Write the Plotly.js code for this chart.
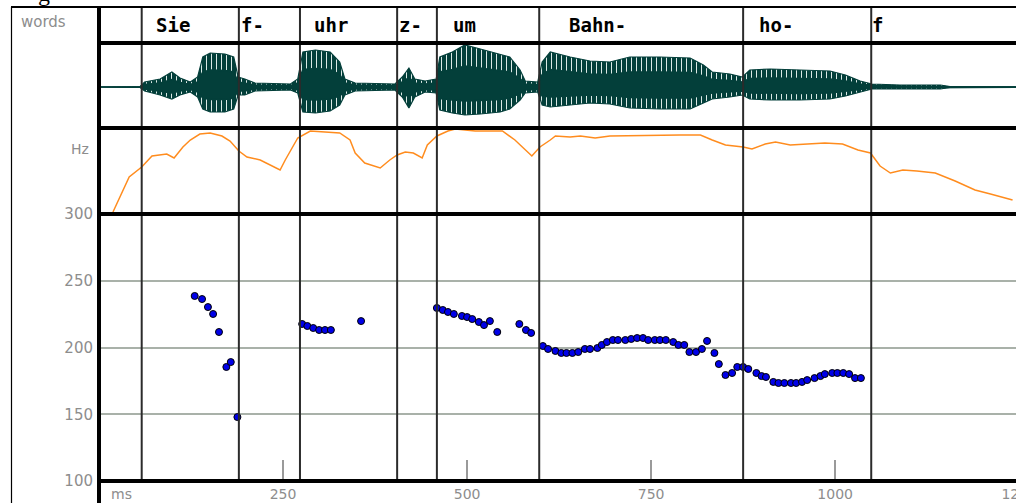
<!DOCTYPE html>
<html>
<head>
<meta charset="utf-8">
<script src="https://cdn.plot.ly/plotly-3.0.1.min.js"></script>
<style>
html,body{margin:0;padding:0;overflow:hidden;background:#fff;width:1016px;height:503px;}
#chart{width:1060px;height:503px;}
</style>
</head>
<body>
<div id="chart"></div>
<script>
// ---------- DATA ----------
// word tier
const words = ["Sie", "f-", "uhr", "z-", "um", "Bahn-", "ho-", "f"];
const wordLabelMs = [76, 192, 291, 406, 480, 637, 895, 1049];
const boundariesMs = [58, 190, 273, 405, 459, 598, 875, 1049];

// waveform envelope (relative amplitude)
const waveMs = [0, 56, 62, 83, 99, 110, 124, 134, 141, 151, 171, 183, 189, 198, 212, 260, 270, 277, 294, 314, 327, 334, 348, 402, 412, 421, 429, 443, 458, 463, 480, 497, 518, 545, 558, 572, 579, 596, 602, 613, 640, 667, 694, 721, 762, 803, 821, 833, 857, 874, 884, 912, 952, 993, 1014, 1034, 1050, 1088, 1143, 1156, 1300];
const waveUpper = [0, 0.5, 5, 8, 15, 9, 5, 10, 30, 34, 33, 30, 10, 8, 4, 3, 8, 35, 37, 35, 25, 8, 4, 3, 10, 19, 8, 6, 8, 30, 35, 42, 38, 33, 30, 17, 6, 5, 25, 35, 30, 26, 25, 30, 30, 29, 22, 15, 13, 10, 17, 18, 17, 16, 12, 6, 3, 2, 2, 0.5, 0];
const waveLower = [0, -0.5, -4, -8, -12, -8, -5, -10, -22, -25, -25, -22, -8, -8, -4, -3, -6, -25, -26, -24, -18, -8, -4, -3, -10, -21, -10, -5, -6, -23, -26, -28, -27, -25, -22, -13, -6, -5, -18, -20, -18, -16, -17, -21, -22, -22, -16, -12, -10, -8, -12, -13, -13, -12, -9, -5, -2, -2, -2, -0.5, 0];

// intensity curve
const intensityMs = [19, 41, 58, 72, 92, 102, 114, 124, 137, 151, 167, 178, 190, 201, 219, 246, 253, 270, 287, 307, 327, 341, 348, 361, 382, 395, 405, 416, 427, 439, 446, 459, 474, 484, 511, 548, 565, 588, 599, 613, 620, 640, 654, 674, 694, 789, 817, 833, 851, 875, 887, 905, 919, 939, 986, 1010, 1031, 1048, 1061, 1075, 1092, 1111, 1136, 1163, 1190, 1211, 1241];
const intensityVal = [2, 37, 47, 58, 60, 56, 67, 74, 80, 81, 78, 73, 63, 57, 54, 44, 54, 76, 83, 82, 81, 74, 61, 51, 46, 54, 59, 62, 61, 56, 69, 78, 83, 85, 83, 83, 74, 58, 67, 74, 78, 77, 78, 76, 78, 79, 79, 74, 69, 67, 65, 70, 72, 69, 71, 70, 64, 61, 48, 41, 44, 43, 41, 33, 24, 20, 14];

// pitch (Hz)
const pitchMs = [130, 140, 148, 155, 163, 173, 179, 188, 276, 283, 291, 299, 307, 315, 356, 459, 467, 474, 482, 493, 500, 507, 516, 523, 531, 541, 571, 580, 587, 603, 610, 620, 628, 635, 643, 651, 660, 667, 677, 683, 690, 698, 705, 715, 723, 731, 739, 746, 755, 762, 770, 780, 787, 795, 802, 811, 819, 826, 836, 842, 851, 860, 867, 875, 882, 893, 900, 906, 916, 923, 931, 940, 947, 955, 962, 972, 980, 986, 996, 1003, 1011, 1019, 1027, 1035];
const pitchHz = [238.6, 236.3, 230.3, 225.1, 211.6, 185.4, 189.1, 147.9, 217.6, 216.1, 214.6, 213.1, 213.1, 213.1, 219.8, 229.6, 228.1, 226.6, 225.1, 223.6, 222.8, 221.3, 219.1, 216.8, 219.8, 211.6, 217.6, 213.1, 210.9, 201.1, 198.9, 197.4, 195.9, 195.9, 195.9, 196.6, 198.9, 198.9, 199.6, 201.9, 204.1, 205.6, 205.6, 205.6, 206.4, 207.1, 207.1, 205.6, 205.6, 205.6, 205.6, 204.1, 201.9, 201.9, 196.6, 196.6, 198.9, 204.9, 195.9, 187.6, 179.4, 180.9, 185.4, 185.4, 183.9, 180.9, 178.6, 177.9, 174.2, 173.4, 173.4, 173.4, 173.4, 174.2, 175.6, 177.1, 178.6, 180.1, 180.9, 180.9, 180.9, 180.1, 177.1, 177.1];

// axes
const timeTicks = [250, 500, 750, 1000, 1250];
const timeTickLabels = ["250", "500", "750", "1000", "1250"];
const hzTicks = [100, 150, 200, 250, 300];
const hzTickLabels = ["100", "150", "200", "250", "300"];

// ---------- LAYOUT ----------
const LW = 1060, LH = 503;
const ML = 99, MR = 4, MT = 7, MB = 22;
const PW = LW - ML - MR, PH = LH - MT - MB;
const px = x => (x - ML) / PW;          // pixel -> paper x
const py = y => (LH - MB - y) / PH;     // pixel -> paper y

const dPitch = [0, py(214)];
const dInt = [py(214), py(128)];
const dWave = [py(128), py(43)];
const dWords = [py(43), 1];

const teal = '#033f3a';
const grayTxt = '#8d8d8d';
const coreScale = 0.5;

// closed outline of the envelope (upper forward, lower backward) for the solid core
const ringX = waveMs.concat(waveMs.slice().reverse());
const ringY = waveUpper.concat(waveLower.slice().reverse());

const traces = [
  // waveform (outer, striated)
  {x: waveMs, y: waveUpper, xaxis: 'x', yaxis: 'y3', mode: 'lines', line: {color: teal, width: 1.2}, hoverinfo: 'skip'},
  {x: waveMs, y: waveLower, xaxis: 'x', yaxis: 'y3', mode: 'lines', line: {color: teal, width: 1.2}, fill: 'tonexty',
   fillcolor: teal, fillpattern: {shape: '|', fgcolor: '#dbe9e6', bgcolor: teal, size: 5, solidity: 0.2}, hoverinfo: 'skip'},
  // waveform inner solid core (same data on a compressed scale)
  {x: ringX, y: ringY, xaxis: 'x', yaxis: 'y5', mode: 'lines', line: {color: teal, width: 1.5}, fill: 'toself',
   fillcolor: teal, hoverinfo: 'skip'},
  // intensity
  {x: intensityMs, y: intensityVal, xaxis: 'x', yaxis: 'y2', mode: 'lines', line: {color: '#ff8c1e', width: 1.5}, hoverinfo: 'skip'},
  // pitch
  {x: pitchMs, y: pitchHz, xaxis: 'x', yaxis: 'y', mode: 'markers',
   marker: {color: '#0000e8', size: 7, line: {color: '#000', width: 1}}, hoverinfo: 'skip'}
];

const shapes = [];
// word boundaries
boundariesMs.forEach(b => shapes.push({type: 'line', xref: 'x', yref: 'paper', x0: b, x1: b, y0: 0, y1: 1,
  line: {color: '#2b2b2b', width: 2}, layer: 'above'}));
// frame lines
const hl = (y, w) => shapes.push({type: 'line', xref: 'paper', yref: 'paper', x0: px(99), x1: px(1100), y0: py(y), y1: py(y), line: {color: '#000', width: w}, layer: 'above'});
hl(43, 4); hl(128, 4); hl(214, 4); hl(481, 4);
shapes.push({type: 'line', xref: 'paper', yref: 'paper', x0: px(11), x1: px(1100), y0: py(7), y1: py(7), line: {color: '#000', width: 2}, layer: 'above'});
shapes.push({type: 'line', xref: 'paper', yref: 'paper', x0: px(99), x1: px(99), y0: py(7), y1: py(510), line: {color: '#000', width: 4}, layer: 'above'});
shapes.push({type: 'line', xref: 'paper', yref: 'paper', x0: px(11.5), x1: px(11.5), y0: py(7), y1: py(510), line: {color: '#000', width: 1.2}, layer: 'above'});

const annotations = [];
words.forEach((w, i) => annotations.push({x: wordLabelMs[i], y: 0.5, xref: 'x', yref: 'y4', text: w, showarrow: false,
  xanchor: 'left', yanchor: 'middle', borderpad: 0,
  font: {family: 'DejaVu Sans Mono', size: 19, color: '#000', weight: 'bold'}}));
annotations.push({x: px(19), y: py(22), xref: 'paper', yref: 'paper', text: 'words', showarrow: false, xanchor: 'left', yanchor: 'middle',
  font: {family: 'DejaVu Sans', size: 15, color: grayTxt}});
annotations.push({x: px(91), y: py(149), xref: 'paper', yref: 'paper', text: 'Hz', showarrow: false, xanchor: 'right', yanchor: 'middle',
  font: {family: 'DejaVu Sans', size: 14, color: grayTxt}});
annotations.push({x: px(109), y: py(494), xref: 'paper', yref: 'paper', text: 'ms', showarrow: false, xanchor: 'left', yanchor: 'middle',
  font: {family: 'DejaVu Sans', size: 14, color: grayTxt}});
annotations.push({x: px(36), y: py(-7), xref: 'paper', yref: 'paper', text: 'g', showarrow: false, xanchor: 'left', yanchor: 'middle',
  font: {family: 'Liberation Serif', size: 24, color: '#000'}});

const layout = {
  width: LW, height: LH,
  margin: {l: ML, r: MR, t: MT, b: MB, pad: 0},
  paper_bgcolor: '#fff', plot_bgcolor: 'rgba(0,0,0,0)',
  showlegend: false,
  xaxis: {domain: [0, 1], range: [0, 1300], anchor: 'y', tickvals: timeTicks, ticktext: timeTickLabels,
    ticks: 'inside', ticklen: 21, tickwidth: 1.5, tickcolor: '#9a9a9a', showgrid: false, zeroline: false, showline: false,
    tickfont: {family: 'DejaVu Sans', size: 14, color: grayTxt}, ticklabelstandoff: 3},
  yaxis: {domain: dPitch, range: [100, 300], tickvals: hzTicks, ticktext: hzTickLabels, ticks: '',
    showgrid: true, gridcolor: '#a9b1a9', gridwidth: 2, zeroline: false, showline: false,
    tickfont: {family: 'DejaVu Sans', size: 15, color: grayTxt}, ticklabelstandoff: 5},
  yaxis2: {domain: dInt, range: [0, 86], visible: false, anchor: 'x'},
  yaxis3: {domain: dWave, range: [-41, 44], visible: false, anchor: 'x'},
  yaxis4: {domain: dWords, range: [0, 1], visible: false, anchor: 'x'},
  yaxis5: {domain: dWave, range: [-41 / coreScale, 44 / coreScale], visible: false, anchor: 'x'},
  shapes: shapes,
  annotations: annotations
};

Plotly.newPlot('chart', traces, layout, {staticPlot: true, displayModeBar: false});
</script>
</body>
</html>
